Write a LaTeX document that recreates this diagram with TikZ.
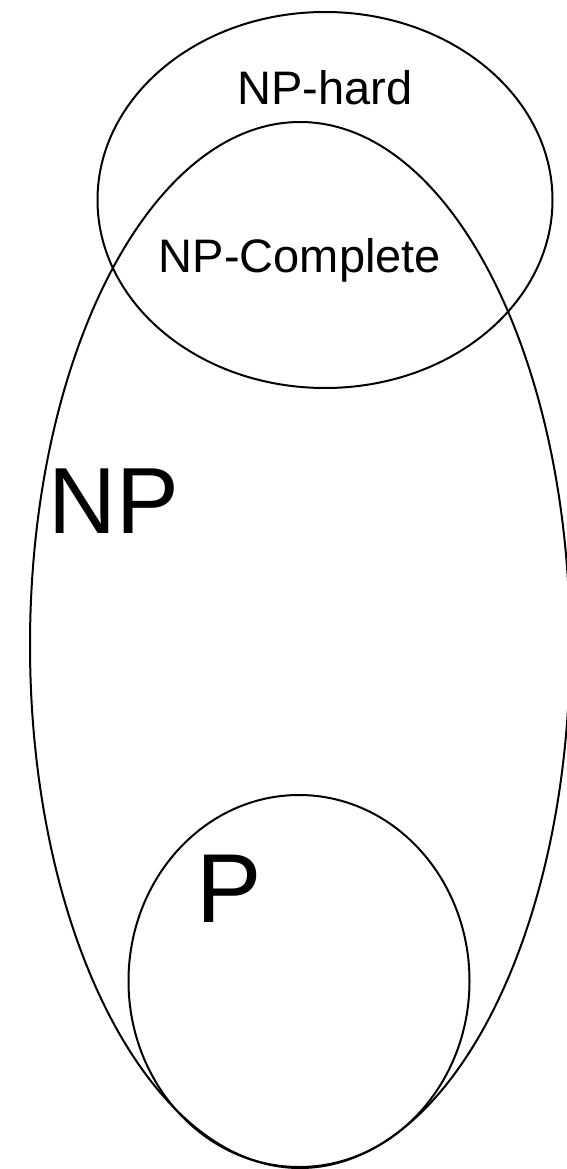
\documentclass[tikz,border=0pt]{standalone}
\usepackage{fontspec}
\setmainfont{Liberation Sans}
\usetikzlibrary{shapes.geometric}
\begin{document}
\begin{tikzpicture}[x=1pt,y=-1pt,
  set/.style={draw=black,line width=2pt,ellipse,inner sep=0pt,fill=none},
  lbl/.style={inner sep=0pt,anchor=base}]
\useasboundingbox (0,0) rectangle (567,1169);
\node[set,minimum width=455pt,minimum height=376pt] (nphard) at (325,200) {};
\node[set,minimum width=540pt,minimum height=1046pt] (np) at (300,645) {};
\node[set,minimum width=341pt,minimum height=372pt] (p) at (299,981) {};
\node[lbl,font=\fontsize{47}{50}\selectfont] (tnphard) at (325,105) {NP-hard};
\node[lbl,font=\fontsize{47}{50}\selectfont] (tnpc) at (300,272) {NP-Complete};
\node[lbl,anchor=base west,font=\fontsize{94}{100}\selectfont] (tnp) at (48,533) {NP};
\node[lbl,anchor=base west,font=\fontsize{98}{100}\selectfont] (tp) at (196,922) {P};
\end{tikzpicture}
\end{document}
